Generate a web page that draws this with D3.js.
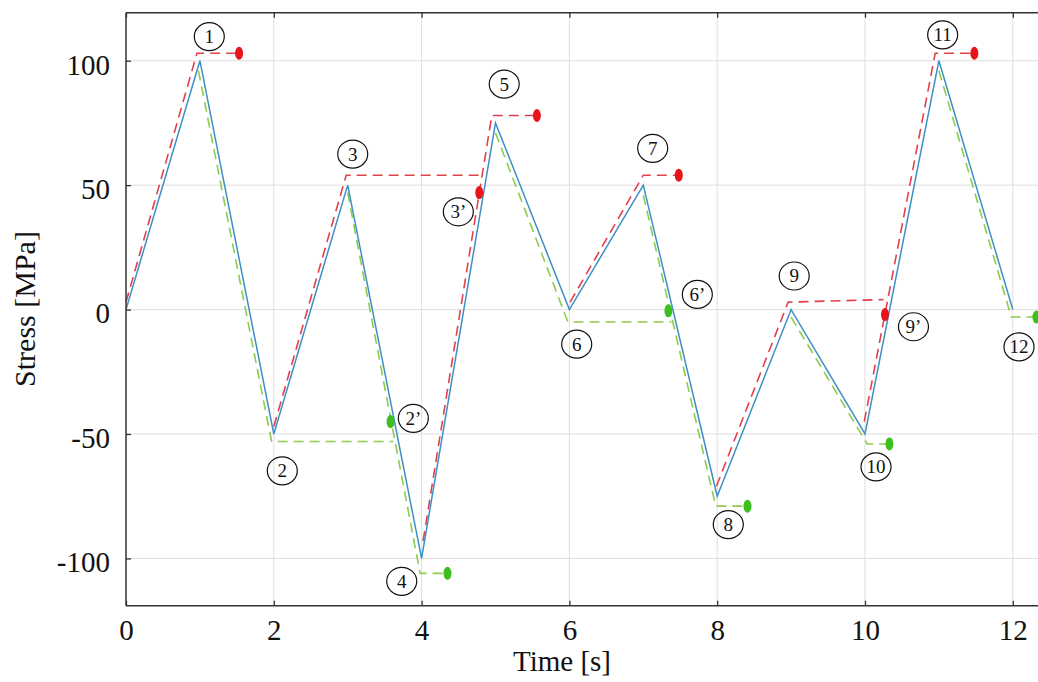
<!DOCTYPE html>
<html><head><meta charset="utf-8">
<script src="https://cdn.jsdelivr.net/npm/d3@7"></script>
<style>
body{margin:0;background:#fff;}
text{font-family:"Liberation Serif","Times New Roman",serif;fill:#111;}
</style>
</head><body>
<svg id="c" width="1038" height="682"></svg>
<script>
// ---- data ----
const times  = [0,1,2,3,4,5,6,7,8,9,10,11,12];
const stress = [0,100,-50,50,-100,75,0,50,-75,0,-50,100,0];

const xTicks = [0,2,4,6,8,10,12];
const yTicks = [-100,-50,0,50,100];

// red dashed (upper memory) paths [t, stress]
const redPaths = [
  [[0.0,3],[0.96,103],[1.53,103]],
  [[2.0,-47],[2.98,54],[4.82,54]],
  [[4.02,-93],[4.95,78],[5.56,78]],
  [[6.01,3],[7.0,54],[7.48,54]],
  [[7.99,-71],[8.96,3],[10.25,4]],
  [[9.99,-45],[10.95,103],[11.48,103]]
];
// green dashed (lower memory) paths
const greenPaths = [
  [[0.98,96],[1.97,-53],[3.62,-53]],
  [[3.0,47],[3.98,-106],[4.35,-106]],
  [[5.0,71],[5.98,-5],[7.38,-5]],
  [[7.0,46],[7.98,-79],[8.41,-79]],
  [[9.0,-3],[10.03,-54],[10.33,-54]],
  [[11.0,96],[11.98,-3],[12.32,-3]]
];
const redDots   = [[1.53,103],[4.78,47],[5.56,78],[7.48,54],[10.27,-2],[11.48,103]];
const greenDots = [[3.58,-45],[4.35,-106],[7.34,-0.5],[8.41,-79],[10.33,-54],[12.32,-3]];

// circled labels [text, t, stress]
const labels = [
  ["1",1.127,109.7],["2",2.115,-64.8],["3",3.068,62.5],["2\u2019",3.888,-43.7],
  ["3\u2019",4.497,39.3],["4",3.731,-109.2],["5",5.118,90.6],["6",6.099,-13.9],
  ["7",7.127,64.8],["6\u2019",7.731,6.1],["8",8.150,-86.4],["9",9.042,13.5],
  ["9\u2019",10.656,-6.9],["10",10.149,-63.2],["11",11.051,110.4],["12",12.084,-15.0]
];

// ---- drawing ----
const svg = d3.select("#c");
const L=126, T=12.7, B=605.7, R=1038;
const x = d3.scaleLinear().domain([0,12.5]).range([L, L+73.9*12.5]);
const y = d3.scaleLinear().domain([-119,119.3]).range([B, T]);

svg.append("defs").append("clipPath").attr("id","clip")
  .append("rect").attr("x",L).attr("y",T).attr("width",R-L+20).attr("height",B-T);

// grid
const grid = svg.append("g").attr("stroke","#dedede").attr("stroke-width",1);
grid.selectAll("line.v").data(xTicks.filter(d=>d>0)).join("line")
  .attr("x1",d=>x(d)).attr("x2",d=>x(d)).attr("y1",T).attr("y2",B);
grid.selectAll("line.h").data(yTicks).join("line")
  .attr("x1",L).attr("x2",R).attr("y1",d=>y(d)).attr("y2",d=>y(d));

const plot = svg.append("g").attr("clip-path","url(#clip)");
const line = d3.line().x(d=>x(d[0])).y(d=>y(d[1]));

plot.selectAll("path.g").data(greenPaths).join("path")
  .attr("d",line).attr("fill","none").attr("stroke","#8ccc4e")
  .attr("stroke-width",1.6).attr("stroke-dasharray","10,6");
plot.selectAll("path.r").data(redPaths).join("path")
  .attr("d",line).attr("fill","none").attr("stroke","#e2414c")
  .attr("stroke-width",1.6).attr("stroke-dasharray","10,6");

plot.append("path").datum(times.map((t,i)=>[t,stress[i]]))
  .attr("d",line).attr("fill","none").attr("stroke","#3d8fc6").attr("stroke-width",1.5);

plot.selectAll("ellipse.rd").data(redDots).join("ellipse")
  .attr("cx",d=>x(d[0])).attr("cy",d=>y(d[1])).attr("rx",4).attr("ry",6.5).attr("fill","#e8141c");
plot.selectAll("ellipse.gd").data(greenDots).join("ellipse")
  .attr("cx",d=>x(d[0])).attr("cy",d=>y(d[1])).attr("rx",4).attr("ry",6.5).attr("fill","#3dbf1f");

// labels
const lg = svg.append("g");
const lab = lg.selectAll("g").data(labels).join("g")
  .attr("transform",d=>`translate(${x(d[1])},${y(d[2])})`);
lab.append("ellipse").attr("rx",15).attr("ry",14).attr("fill","none")
  .attr("stroke","#111").attr("stroke-width",1.2);
lab.append("text").text(d=>d[0]).attr("text-anchor","middle").attr("dy","0.34em")
  .style("font-size","19px");

// axes
const axB = svg.append("g").attr("transform",`translate(0,${B})`)
  .call(d3.axisBottom(x).tickValues(xTicks).tickSizeInner(-5).tickSizeOuter(0).tickPadding(14).tickFormat(d3.format("d")));
const axT = svg.append("g").attr("transform",`translate(0,${T})`)
  .call(d3.axisTop(x).tickValues(xTicks).tickSizeInner(-5).tickSizeOuter(0).tickFormat(""));
const axL = svg.append("g").attr("transform",`translate(${L},0)`)
  .call(d3.axisLeft(y).tickValues(yTicks).tickSizeInner(-5).tickSizeOuter(0).tickPadding(16).tickFormat(d=>String(d)));
[axB,axT,axL].forEach(a=>{
  a.select(".domain").remove();
  a.selectAll(".tick line").attr("stroke","#333").attr("stroke-width",1.3);
  a.selectAll("text").style("font-size","29px").style("font-family",'"Liberation Serif",serif').attr("fill","#111");
});
axL.selectAll("text").attr("dy","0.46em");

// frame
const fr = svg.append("g").attr("stroke","#333").attr("stroke-width",1.5).attr("fill","none");
fr.append("line").attr("x1",L).attr("x2",L).attr("y1",T).attr("y2",B);
fr.append("line").attr("x1",L).attr("x2",R).attr("y1",T).attr("y2",T);
fr.append("line").attr("x1",L).attr("x2",R).attr("y1",B).attr("y2",B);

// axis titles
svg.append("text").attr("x",562).attr("y",671).attr("text-anchor","middle")
  .style("font-size","29px").text("Time [s]");
svg.append("text").attr("transform","translate(35,309) rotate(-90)").attr("text-anchor","middle")
  .style("font-size","30px").text("Stress [MPa]");
</script>
</body></html>
